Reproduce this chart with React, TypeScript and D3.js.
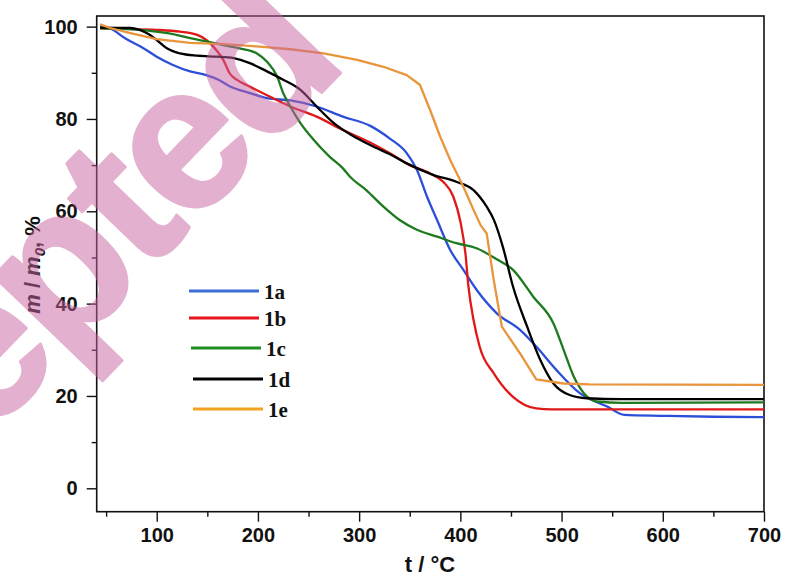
import React, { useEffect, useRef } from 'react'
import * as d3 from 'd3'

// TGA curves: temperature (°C) / residual mass (%)
const temp1a = [44, 54, 70, 84, 100, 116, 133, 149, 162, 172, 192, 209, 232, 258, 284, 311, 330, 347, 357, 367, 377, 390, 403, 416, 436, 459, 475, 495, 518, 545, 562, 600, 650, 700]
const mass1a = [100, 99.6, 97.3, 95.7, 93.5, 91.7, 90.3, 89.5, 88.4, 87.1, 85.6, 84.5, 84, 82.7, 80.5, 78.5, 75.8, 72.6, 69, 63.2, 58.1, 51.6, 47.3, 43, 37.9, 34.3, 30.7, 25.6, 20.6, 17.7, 15.9, 15.7, 15.5, 15.4]

const temp1b = [44, 67, 100, 123, 140, 149, 159, 166, 172, 179, 192, 212, 232, 258, 284, 311, 330, 350, 370, 383, 393, 400, 405, 408, 413, 419, 433, 452, 475, 490, 550, 700]
const mass1b = [99.6, 99.5, 99.3, 98.9, 98.2, 97.1, 94.9, 92.7, 89.9, 88.5, 87, 84.8, 82.7, 80.5, 77.6, 74.9, 72.6, 70, 68.2, 66.4, 63.2, 57.8, 50.9, 43.7, 36.5, 30.7, 24.9, 19.8, 17.3, 17.1, 17.1, 17.1]

const temp1c = [44, 84, 100, 116, 133, 149, 166, 182, 199, 209, 219, 225, 232, 242, 255, 271, 284, 291, 307, 324, 340, 357, 377, 396, 416, 436, 452, 472, 492, 502, 512, 522, 535, 560, 700]
const mass1c = [99.6, 99.3, 98.9, 98.4, 97.5, 96.8, 96, 95.3, 94.2, 92.4, 89.2, 85.6, 82.7, 79.1, 75.5, 71.8, 69.3, 67.5, 64.6, 61, 58.1, 56, 54.5, 53.1, 52, 49.6, 47.3, 41.5, 35.7, 30, 24.2, 20.6, 18.8, 18.5, 18.6]

const temp1d = [44, 74, 90, 100, 110, 123, 140, 159, 176, 192, 209, 225, 242, 258, 275, 298, 317, 330, 345, 373, 396, 413, 426, 433, 442, 452, 466, 479, 492, 508, 525, 560, 700]
const mass1d = [99.8, 99.7, 98.6, 97.1, 95.3, 94.2, 93.7, 93.5, 93.2, 92.1, 90.3, 88.5, 86.3, 82.7, 79.1, 75.8, 73.7, 72.4, 70.6, 67.9, 66.4, 64.6, 61, 58.2, 52.3, 43.7, 35, 27.8, 22.7, 20.2, 19.5, 19.3, 19.3]

const temp1e = [44, 54, 74, 100, 133, 166, 199, 232, 265, 298, 324, 347, 360, 370, 380, 390, 403, 413, 420, 426, 433, 441, 459, 475, 502, 528, 700]
const mass1e = [100.5, 99.7, 98.6, 97.3, 96.5, 96.2, 95.7, 95.1, 94.2, 92.8, 91.3, 89.5, 87.4, 82, 76.2, 71.1, 65.3, 60.3, 57, 55.2, 45.1, 35, 29.2, 23.6, 22.7, 22.5, 22.4]

const seriesNames = ['1a', '1b', '1c', '1d', '1e']
const lineColors = ['#2b4fd9', '#e01818', '#1e7a1e', '#000000', '#e8953c']
const legendColors = ['#3b6fd6', '#e8141c', '#1f8f1f', '#000000', '#f2a31f']

const yTicks = [0, 20, 40, 60, 80, 100]
const yMinorTicks = [10, 30, 50, 70, 90]
const xTicks = [100, 200, 300, 400, 500, 600, 700]
const xMinorTicks = [50, 150, 250, 350, 450, 550, 650]

export default function App() {
  const ref = useRef<SVGSVGElement>(null)

  useEffect(() => {
    const svg = d3.select(ref.current)
    svg.selectAll('*').remove()

    const left = 96.7, right = 764, top = 16, bottom = 511.7
    const x = d3.scaleLinear([40.7, 700], [left, right])
    const y = d3.scaleLinear([-5.07, 102.3], [bottom, top])

    const temps = [temp1a, temp1b, temp1c, temp1d, temp1e]
    const masses = [mass1a, mass1b, mass1c, mass1d, mass1e]
    const series = seriesNames.map((name, i) => ({
      name,
      color: lineColors[i],
      points: temps[i].map((t, j) => [t, masses[i][j]] as [number, number])
    }))

    const tickFont = (g: any) => g
      .attr('font-family', '"Liberation Sans", Arial, sans-serif')
      .attr('font-weight', 'bold')
      .attr('font-size', 20)

    // y axis, major + minor
    svg.append('g')
      .attr('transform', `translate(${left},0)`)
      .call(d3.axisLeft(y).tickValues(yTicks).tickSize(10).tickPadding(9).tickSizeOuter(0))
      .call(tickFont)
      .call(g => g.select('.domain').remove())
      .call(g => g.selectAll('line').attr('stroke', '#111').attr('stroke-width', 1.4))
      .call(g => g.selectAll('text').attr('fill', '#111'))
    svg.append('g')
      .attr('transform', `translate(${left},0)`)
      .call(d3.axisLeft(y).tickValues(yMinorTicks).tickSize(5).tickFormat(() => ''))
      .call(g => g.select('.domain').remove())
      .call(g => g.selectAll('line').attr('stroke', '#111').attr('stroke-width', 1.4))

    // x axis, major + minor
    svg.append('g')
      .attr('transform', `translate(0,${bottom})`)
      .call(d3.axisBottom(x).tickValues(xTicks).tickSize(10).tickPadding(6).tickSizeOuter(0))
      .call(tickFont)
      .call(g => g.select('.domain').remove())
      .call(g => g.selectAll('line').attr('stroke', '#111').attr('stroke-width', 1.4))
      .call(g => g.selectAll('text').attr('fill', '#111'))
    svg.append('g')
      .attr('transform', `translate(0,${bottom})`)
      .call(d3.axisBottom(x).tickValues(xMinorTicks).tickSize(5).tickFormat(() => ''))
      .call(g => g.select('.domain').remove())
      .call(g => g.selectAll('line').attr('stroke', '#111').attr('stroke-width', 1.4))

    // frame
    svg.append('rect')
      .attr('x', left).attr('y', top)
      .attr('width', right - left).attr('height', bottom - top)
      .attr('fill', 'none').attr('stroke', '#111').attr('stroke-width', 1.6)

    // curves
    const line = d3.line<[number, number]>()
      .x(d => x(d[0]))
      .y(d => y(d[1]))
      .curve(d3.curveMonotoneX)
    const linearLine = d3.line<[number, number]>()
      .x(d => x(d[0]))
      .y(d => y(d[1]))

    svg.append('g').selectAll('path')
      .data(series).enter()
      .append('path')
      .attr('d', d => (d.name === '1e' ? linearLine : line)(d.points))
      .attr('fill', 'none')
      .attr('stroke', d => d.color)
      .attr('stroke-width', 2.3)
      .attr('stroke-linejoin', 'round')

    // legend
    const legendRows = [
      { y: 291, x0: 189 },
      { y: 318, x0: 189 },
      { y: 348, x0: 191 },
      { y: 379, x0: 193 },
      { y: 409, x0: 193 }
    ]
    const legend = svg.append('g')
    seriesNames.forEach((name, i) => {
      const r = legendRows[i]
      legend.append('line')
        .attr('x1', r.x0).attr('x2', r.x0 + 70)
        .attr('y1', r.y).attr('y2', r.y)
        .attr('stroke', legendColors[i]).attr('stroke-width', 3.2)
      legend.append('text')
        .attr('x', r.x0 + 75).attr('y', r.y + 8)
        .attr('font-family', '"Liberation Serif", "Times New Roman", serif')
        .attr('font-weight', 'bold')
        .attr('font-size', 21)
        .attr('fill', '#111')
        .text(name)
    })

    // axis titles
    svg.append('text')
      .attr('x', 430).attr('y', 572)
      .attr('text-anchor', 'middle')
      .attr('font-family', '"Liberation Sans", Arial, sans-serif')
      .attr('font-weight', 'bold').attr('font-size', 22)
      .attr('fill', '#111')
      .text('t / °C')

    const yTitle = svg.append('text')
      .attr('transform', 'translate(40,265) rotate(-90)')
      .attr('text-anchor', 'middle')
      .attr('font-family', '"Liberation Sans", Arial, sans-serif')
      .attr('font-weight', 'bold').attr('font-size', 22)
      .attr('fill', '#111')
    yTitle.append('tspan').attr('font-style', 'italic').text('m')
    yTitle.append('tspan').text(' / ')
    yTitle.append('tspan').attr('font-style', 'italic').text('m')
    yTitle.append('tspan').attr('font-style', 'italic').attr('font-size', 15).attr('dy', 5).text('0')
    yTitle.append('tspan').attr('dy', -5).text(', %')

    // watermark
    svg.append('text')
      .attr('transform', 'translate(42,382) rotate(-46)')
      .attr('text-anchor', 'middle')
      .attr('font-family', '"Liberation Sans", Arial, sans-serif')
      .attr('font-weight', 'bold')
      .attr('font-size', 205)
      .attr('letter-spacing', -6)
      .attr('fill', 'rgb(200,100,160)')
      .attr('stroke', 'rgb(200,100,160)')
      .attr('stroke-width', 3)
      .attr('stroke-linejoin', 'round')
      .attr('opacity', 0.5)
      .text('Accepted')
  }, [])

  return (
    <svg ref={ref} width={786} height={576}
      style={{ position: 'absolute', left: 0, top: 0, background: '#fff' }} />
  )
}
